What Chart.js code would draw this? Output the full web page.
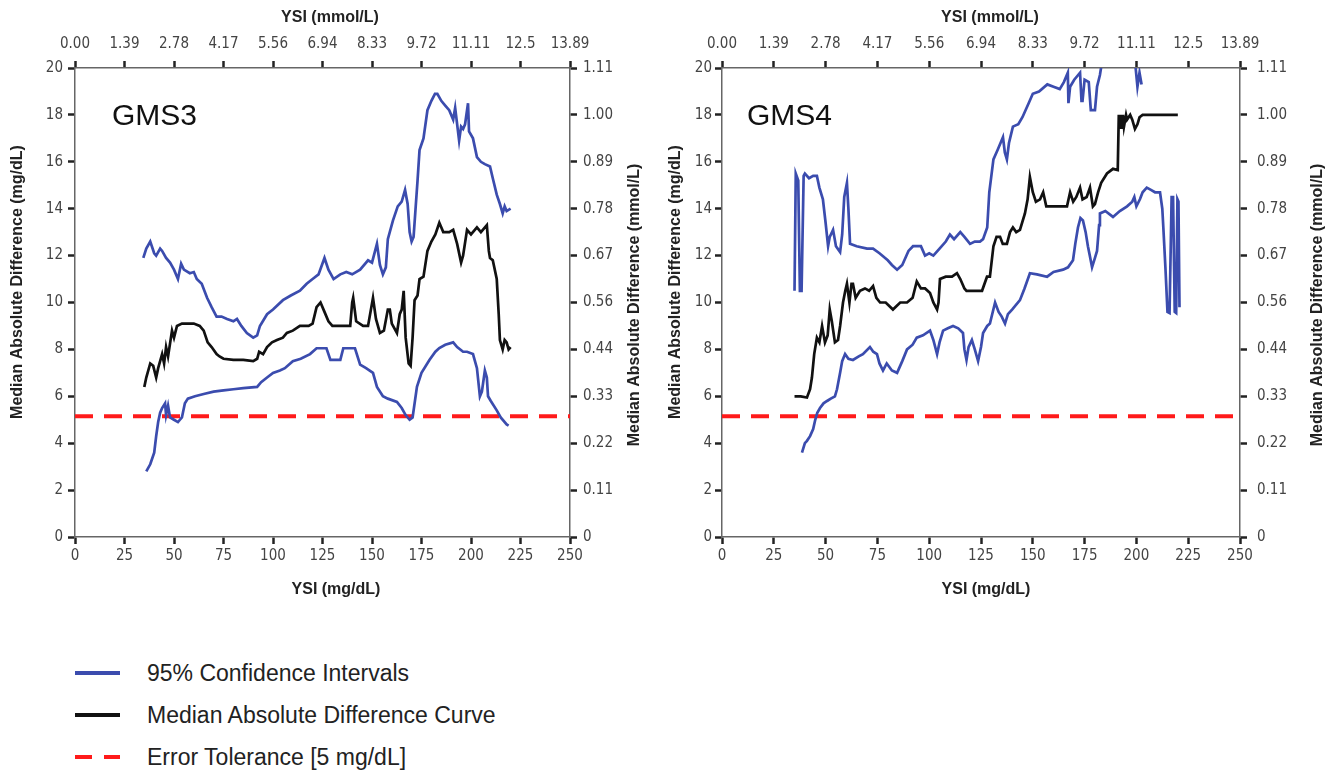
<!DOCTYPE html>
<html>
<head>
<meta charset="utf-8">
<script src="https://cdn.jsdelivr.net/npm/chart.js@4.4.1/dist/chart.umd.min.js"></script>
<style>
  body { margin: 0; background: #fff; width: 1334px; height: 774px; position: relative; overflow: hidden; }
  canvas { position: absolute; top: 0; }
  #c1 { left: 0; }
  #c2 { left: 660px; }
  .legend { position: absolute; left: 75px; font-family: "Liberation Sans", Arial, sans-serif; font-size: 23px; color: #222; }
  .row { position: absolute; left: 0; height: 26px; white-space: nowrap; }
  .row span.txt { position: absolute; left: 72px; top: 0; line-height: 26px; }
  .sw { position: absolute; top: 11px; height: 4px; }
</style>
</head>
<body>
<canvas id="c1" width="660" height="620"></canvas>
<canvas id="c2" width="674" height="620"></canvas>

<div class="legend">
  <div class="row" style="top:660px"><div class="sw" style="left:0;width:45px;background:#3b4cae"></div><span class="txt">95% Confidence Intervals</span></div>
  <div class="row" style="top:702px"><div class="sw" style="left:0;width:45px;background:#111"></div><span class="txt">Median Absolute Difference Curve</span></div>
  <div class="row" style="top:744px"><div class="sw" style="left:0;width:17px;background:#ff1a1a"></div><div class="sw" style="left:29px;width:16px;background:#ff1a1a"></div><span class="txt">Error Tolerance [5 mg/dL]</span></div>
</div>

<script>
// tick labels
const mmolXTicks = ['0.00', '1.39', '2.78', '4.17', '5.56', '6.94', '8.33', '9.72', '11.11', '12.5', '13.89'];
const mmolYTicks = ['0', '0.11', '0.22', '0.33', '0.44', '0.56', '0.67', '0.78', '0.89', '1.00', '1.11'];

const errorTolerance = 5.15;

// GMS3 curves, [YSI mg/dL, difference mg/dL]
const gms3Upper = [[34.5,11.9],[36,12.3],[38,12.6],[40,12.1],[41,12.0],[43,12.3],[44,12.2],[46,11.9],[48,11.7],[50,11.4],[52,11.0],[53.6,11.65],[55,11.4],[58,11.25],[60,11.3],[61.5,11.0],[64,10.8],[66.7,10.2],[69,9.8],[71.5,9.4],[74,9.4],[76.8,9.3],[80,9.2],[81.8,9.3],[84,9.0],[86.8,8.7],[90,8.5],[92,8.6],[93.4,9.0],[97,9.5],[100,9.7],[105,10.1],[109,10.3],[113.6,10.5],[117,10.8],[120,11.0],[123,11.2],[126,11.9],[128,11.4],[130.6,11.0],[134,11.2],[137,11.3],[140,11.2],[144,11.4],[148,11.8],[150,11.7],[152.5,12.5],[154,11.6],[155.5,11.2],[157,11.5],[158,12.7],[160.6,13.5],[163,14.1],[165,14.3],[166.7,14.8],[168,14.2],[169,13.0],[170,12.6],[171,12.8],[172,14.0],[173,15.2],[174,16.5],[176,17.0],[178,18.2],[180,18.6],[181.8,18.9],[183,18.9],[185,18.6],[187,18.4],[189,18.2],[191,17.8],[192,18.3],[194,16.9],[195,17.5],[196,17.4],[197,17.6],[198.5,18.5],[199,17.3],[201,17.0],[203,16.2],[205,16.0],[207,15.9],[209.6,15.8],[211,15.3],[213,14.6],[214.6,14.2],[216,13.8],[217,14.1],[218,13.9],[220,14.0]];
const gms3Median = [[35,6.4],[36,6.8],[38,7.4],[39.5,7.3],[41,6.8],[42,7.2],[44,7.8],[45,7.4],[46,8.1],[47,7.7],[49,8.8],[50,8.5],[51.5,9.0],[54,9.1],[57,9.1],[60,9.1],[63,9.0],[65,8.8],[67,8.3],[69,8.1],[71.5,7.8],[73,7.7],[75,7.6],[80,7.55],[85,7.55],[90,7.5],[92,7.6],[93,7.9],[95,7.8],[97,8.1],[99.5,8.3],[102,8.4],[105,8.5],[107,8.7],[110,8.8],[113.6,9.0],[118,9.0],[120,9.1],[122,9.8],[124,10.0],[126,9.6],[128,9.2],[130,9.0],[135,9.0],[139,9.0],[140,10.0],[140.5,10.2],[142,9.2],[145.5,9.0],[148,9.0],[150.5,10.2],[152,9.3],[154,8.7],[156,8.8],[158,9.7],[159,9.7],[160,9.1],[162.6,8.7],[164,9.5],[165,9.7],[166,10.5],[167,8.5],[168.5,7.4],[169.5,7.3],[170.5,8.5],[171.5,10.1],[173,10.3],[174,11.0],[176,11.1],[178,12.2],[180,12.6],[182,12.9],[184,13.4],[186,13.0],[189,13.0],[191,13.1],[193,12.5],[195,11.7],[196,12.0],[198,13.1],[200,12.9],[203,13.2],[205,13.0],[208,13.3],[209,12.2],[209.6,11.9],[211,11.8],[213,11.0],[214,9.5],[214.6,8.4],[216,8.0],[217,8.4],[218,8.3],[219,8.0],[220,8.1]];
const gms3Lower = [[36,2.8],[38,3.1],[40,3.6],[41,4.3],[42,4.9],[43,5.3],[44,5.5],[45.5,5.7],[46,5.2],[47,5.6],[48,5.1],[50,5.0],[52,4.9],[53,5.0],[54,5.1],[55.5,5.7],[57,5.9],[60.6,6.0],[65,6.1],[70,6.2],[75,6.25],[80,6.3],[85,6.35],[92,6.4],[94,6.6],[97,6.8],[100,7.0],[103.5,7.1],[106,7.2],[110,7.5],[114,7.6],[118.7,7.8],[122,8.05],[127,8.05],[129,7.55],[134,7.55],[135.5,8.05],[141.4,8.05],[144,7.35],[147,7.2],[150.5,7.0],[152.5,6.4],[155.5,6.0],[158,5.9],[162.6,5.76],[165,5.5],[167,5.2],[169,5.0],[170.5,5.1],[172.7,6.4],[175,7.0],[179,7.55],[182,7.9],[184,8.06],[187,8.2],[191,8.3],[193,8.1],[196,7.9],[198,7.9],[201,7.8],[203,7.2],[204.5,6.0],[205.5,6.2],[207,7.1],[208,6.8],[208.6,6.0],[210,5.8],[213,5.4],[215,5.1],[218,4.8],[219,4.75]];

// GMS4 curves
const gms4Upper = [[35,10.5],[35.6,15.5],[36.8,15.2],[37.6,10.5],[38.4,10.5],[39.4,15.4],[40,15.5],[42,15.3],[44,15.4],[45.8,15.4],[47,14.9],[48.7,14.4],[50,13.4],[51.2,12.4],[52,12.8],[53.6,13.1],[55,12.4],[57,12.15],[58,12.9],[59,14.5],[60.3,15.1],[61,14.0],[61.8,12.5],[65,12.4],[70,12.3],[72.9,12.3],[76,12.1],[80,11.8],[82,11.6],[84.5,11.4],[87,11.6],[90,12.2],[92.2,12.4],[96,12.4],[98,12.0],[100,12.1],[102,12.0],[105,12.3],[108,12.6],[110,12.9],[112,12.7],[115,13.0],[117,12.8],[119.7,12.5],[122,12.6],[124.5,12.6],[126,12.7],[128,13.2],[129,14.7],[131,16.1],[133,16.5],[135.6,17.05],[136.5,16.4],[137.5,16.1],[138.5,16.8],[140.4,17.5],[143,17.6],[145,17.9],[148,18.5],[150,18.9],[153,19.0],[157,19.3],[160,19.2],[163,19.1],[165,19.4],[166.9,19.8],[167.2,18.5],[168,19.2],[170,19.5],[172.8,19.8],[173.5,18.6],[174,18.6],[175,19.5],[177,19.4],[178,18.2],[180,18.2],[181,19.2],[182.4,19.7],[184,20.6],[199,20.6],[200.5,19.2],[201.5,19.8],[202.5,19.3]];
const gms4Median = [[35,6.0],[38,6.0],[41,5.95],[42.5,6.3],[43.4,6.8],[44.5,7.8],[45.8,8.5],[47,8.3],[48.3,9.0],[49.7,8.3],[51,8.6],[52,9.7],[53,9.2],[54.5,8.3],[56,8.4],[57,9.0],[58.4,10.0],[59.5,10.5],[60.3,10.8],[61.5,10.0],[62.5,10.8],[63.2,10.8],[64.5,10.2],[66.6,10.5],[69,10.6],[71,10.5],[72.9,10.7],[74.5,10.2],[76.3,10.0],[79,10.0],[82.5,9.7],[86,10.0],[89.3,10.0],[92,10.2],[94,10.9],[96,10.6],[98,10.6],[100.4,10.4],[102,10.0],[103.8,9.7],[104.5,10.0],[105.2,11.0],[108,11.1],[111,11.1],[113.4,11.25],[115,11.0],[117,10.6],[118,10.5],[122,10.5],[125.5,10.5],[127.9,11.1],[129.3,11.1],[131,12.4],[132.5,12.8],[134.2,12.8],[135.5,12.5],[137.5,12.5],[139,13.0],[140.4,13.2],[142,13.0],[143.8,13.1],[146.2,13.8],[147.5,14.4],[148.6,15.35],[150,14.7],[151.5,14.3],[153.5,14.4],[155,14.7],[156.5,14.1],[158.3,14.1],[162,14.1],[166.5,14.1],[168,14.7],[169.5,14.3],[171,14.5],[172.8,14.9],[174,14.4],[176,14.5],[177.6,14.9],[179,14.1],[180,14.2],[181.5,14.7],[183,15.1],[185.8,15.5],[188.7,15.7],[191,15.65],[191.5,18.0],[192,17.4],[192.5,18.0],[193,17.4],[193.5,18.0],[194,17.5],[195,18.0],[195.5,17.8],[197,18.0],[198,17.8],[199.3,17.4],[200.5,17.6],[201.5,17.9],[203,18.0],[210,18.0],[220,18.0]];
const gms4Lower = [[38.6,3.6],[40,4.0],[41,4.1],[42.5,4.3],[44,4.6],[45,5.0],[46,5.3],[47.3,5.5],[49,5.7],[50.7,5.8],[52.5,5.9],[54.5,6.0],[55.5,6.3],[57,7.0],[58,7.5],[59.4,7.8],[61,7.6],[63.2,7.55],[66,7.7],[68,7.8],[71.4,8.1],[73,7.9],[74.8,7.8],[76,7.4],[77.7,7.1],[79.5,7.4],[82,7.1],[84.5,7.0],[87,7.5],[89.3,8.0],[92,8.2],[94,8.5],[97,8.6],[100.4,8.8],[102,8.4],[103.8,7.8],[105,8.3],[106.7,8.8],[109,8.9],[111.5,9.0],[114,8.9],[116.3,8.7],[117,8.0],[118,7.55],[119,8.1],[120.6,8.4],[122,8.0],[123.6,7.5],[125,8.1],[126,8.7],[128,9.0],[129.3,9.1],[131.8,10.0],[133.5,9.6],[135,9.4],[136.6,9.1],[138,9.5],[140,9.7],[143.8,10.1],[146,10.6],[148.6,11.25],[152,11.2],[156.9,11.1],[160,11.3],[164.6,11.4],[167,11.5],[169.4,11.8],[170.5,12.5],[171.8,13.2],[173,13.6],[174.2,13.5],[175.5,13.0],[176.6,12.4],[177.5,12.0],[178.6,11.5],[180,11.9],[181,12.2],[182,13.3],[182.4,13.8],[185,13.9],[188.7,13.65],[192,13.9],[195.5,14.1],[198,14.3],[199,14.5],[200,14.1],[201.7,14.4],[203,14.7],[205,14.9],[207,14.8],[209,14.7],[211.4,14.7],[212.5,14.0],[213,13.2],[214,11.5],[215,9.6],[216,9.55],[217,14.5],[217.7,14.5],[218.5,9.6],[219.2,9.55],[219.8,14.4],[220.3,14.3],[220.8,9.8]];

const BLUE = '#3b4cae';
const BLACK = '#111';
const RED = '#ff1a1a';

const tickFont = { family: "'Liberation Sans Narrow', 'DejaVu Sans Condensed', Arial, sans-serif", size: 15 };
const TITLE_FONT = 'bold 16px "Liberation Sans", Arial, sans-serif';

const toPts = arr => arr.map(p => ({ x: p[0], y: p[1] }));

// panel name and axis titles (all titles read bottom-to-top on both sides)
const panelText = {
    id: 'panelText',
    afterDraw(chart, args, opts) {
        const { ctx, chartArea } = chart;
        ctx.save();
        ctx.font = '30px "Liberation Sans", Arial, sans-serif';
        ctx.fillStyle = '#111';
        ctx.fillText(opts.text, chartArea.left + opts.dx, chartArea.top + 57);

        ctx.font = TITLE_FONT;
        ctx.fillStyle = '#222';
        ctx.textAlign = 'center';
        ctx.textBaseline = 'middle';
        opts.titles.forEach(t => {
            ctx.save();
            ctx.translate(t.x, t.y);
            if (t.rot) ctx.rotate(-Math.PI / 2);
            ctx.fillText(t.text, 0, 0);
            ctx.restore();
        });
        ctx.restore();
    }
};

function axisBase(extra) {
    return Object.assign({
        type: 'linear',
        grid: { drawOnChartArea: false, drawTicks: true, tickLength: 7, tickColor: '#222', tickWidth: 2.5 },
        border: { display: true, color: '#666', width: 1.5 },
    }, extra);
}

function makeChart(id, cfg) {
    const ctx = document.getElementById(id).getContext('2d');
    return new Chart(ctx, {
        type: 'line',
        data: {
            datasets: [
                { label: 'upper', data: toPts(cfg.upper), borderColor: BLUE, borderWidth: 2.7 },
                { label: 'lower', data: toPts(cfg.lower), borderColor: BLUE, borderWidth: 2.7 },
                { label: 'median', data: toPts(cfg.median), borderColor: BLACK, borderWidth: 2.7 },
                { label: 'tolerance', data: [{ x: 0, y: errorTolerance }, { x: 250, y: errorTolerance }],
                  borderColor: RED, borderWidth: 4, borderDash: [18, 11] }
            ]
        },
        options: {
            responsive: false,
            animation: false,
            layout: { padding: 0 },
            elements: { point: { radius: 0 }, line: { tension: 0 } },
            plugins: {
                legend: { display: false },
                tooltip: { enabled: false },
                panelText: { text: cfg.label, dx: cfg.labelDx, titles: cfg.titles }
            },
            scales: {
                x: axisBase({
                    position: 'bottom', min: 0, max: 250,
                    ticks: { stepSize: 25, padding: 3, color: '#444', font: tickFont, maxRotation: 0 },
                    afterFit: s => { s.height = 83; }
                }),
                xTop: axisBase({
                    position: 'top', min: 0, max: 250,
                    ticks: { stepSize: 25, padding: 8, color: '#444', font: tickFont, maxRotation: 0,
                             callback: (v, i) => mmolXTicks[i] },
                    afterFit: s => { s.height = 68; }
                }),
                y: axisBase({
                    position: 'left', min: 0, max: 20,
                    ticks: { stepSize: 2, padding: cfg.leftPad, color: '#444', font: tickFont },
                    afterFit: s => { s.width = cfg.leftWidth; }
                }),
                yRight: axisBase({
                    position: 'right', min: 0, max: 20,
                    ticks: { stepSize: 2, padding: cfg.rightPad, color: '#444', font: tickFont,
                             callback: (v, i) => mmolYTicks[i] },
                    afterFit: s => { s.width = cfg.rightWidth; }
                })
            }
        },
        plugins: [panelText]
    });
}

makeChart('c1', {
    upper: gms3Upper, lower: gms3Lower, median: gms3Median, label: 'GMS3', labelDx: 37,
    leftWidth: 75, rightWidth: 90, leftPad: 5, rightPad: 6,
    titles: [
        { text: 'YSI (mmol/L)', x: 330, y: 18 },
        { text: 'YSI (mg/dL)', x: 336, y: 590 },
        { text: 'Median Absolute Difference (mg/dL)', x: 18, y: 282, rot: true },
        { text: 'Median Absolute Difference (mmol/L)', x: 635, y: 305, rot: true }
    ]
});
makeChart('c2', {
    upper: gms4Upper, lower: gms4Lower, median: gms4Median, label: 'GMS4', labelDx: 25,
    leftWidth: 62, rightWidth: 94, leftPad: 3, rightPad: 10,
    titles: [
        { text: 'YSI (mmol/L)', x: 330, y: 18 },
        { text: 'YSI (mg/dL)', x: 326, y: 590 },
        { text: 'Median Absolute Difference (mg/dL)', x: 16, y: 282, rot: true },
        { text: 'Median Absolute Difference (mmol/L)', x: 658, y: 305, rot: true }
    ]
});
</script>
</body>
</html>
